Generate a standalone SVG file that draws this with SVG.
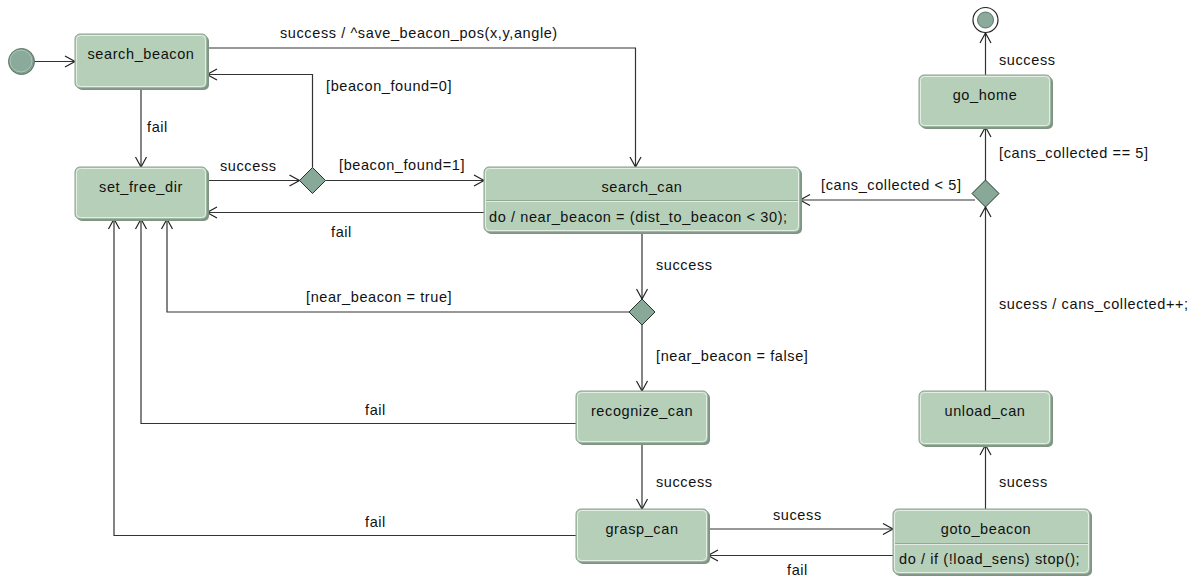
<svg xmlns="http://www.w3.org/2000/svg" width="1192" height="576" viewBox="0 0 1192 576">
<style>
text{font-family:"Liberation Sans",Arial,sans-serif;font-size:14.5px;fill:#111;letter-spacing:0.6px}
.t{text-anchor:middle}
.sh{fill:#7f9483}
.bx{fill:#b6cfb8;stroke:#8aa08e;stroke-width:1}
.hl{fill:none;stroke:#e4eee5;stroke-width:1}
.c{fill:none;stroke:#333;stroke-width:1.2}
.dm{fill:#88a898;stroke:#26332b;stroke-width:1}
.dv1{stroke:#93a897;stroke-width:1}
.dv2{stroke:#e2ece3;stroke-width:1}
</style>
<defs>
<marker id="a" markerUnits="userSpaceOnUse" markerWidth="14" markerHeight="14" viewBox="0 0 14 14" refX="11" refY="7" orient="auto">
<path d="M1,1.5 L11,7 L1,12.5" fill="none" stroke="#222" stroke-width="1.2"/>
</marker>
</defs>

<g id="connectors">
<path class="c" d="M34,61.5 H75" marker-end="url(#a)"/>
<path class="c" d="M207,48 H635.5 V167" marker-end="url(#a)"/>
<path class="c" d="M141,88 V167" marker-end="url(#a)"/>
<path class="c" d="M207,180.5 H299.5" marker-end="url(#a)"/>
<path class="c" d="M312.5,167.5 V74.5 H207" marker-end="url(#a)"/>
<path class="c" d="M325.5,180.5 H484" marker-end="url(#a)"/>
<path class="c" d="M484,212.5 H207" marker-end="url(#a)"/>
<path class="c" d="M642,232 V299" marker-end="url(#a)"/>
<path class="c" d="M629,312 H167 V219" marker-end="url(#a)"/>
<path class="c" d="M642,325 V391" marker-end="url(#a)"/>
<path class="c" d="M576,423.5 H141 V219" marker-end="url(#a)"/>
<path class="c" d="M642,443 V509" marker-end="url(#a)"/>
<path class="c" d="M576,535.5 H114 V219" marker-end="url(#a)"/>
<path class="c" d="M708,529 H893" marker-end="url(#a)"/>
<path class="c" d="M893,555.5 H708" marker-end="url(#a)"/>
<path class="c" d="M985.5,509 V445" marker-end="url(#a)"/>
<path class="c" d="M985.5,391 V207" marker-end="url(#a)"/>
<path class="c" d="M975,200 H800" marker-end="url(#a)"/>
<path class="c" d="M985.5,180 V127" marker-end="url(#a)"/>
<path class="c" d="M985.5,75 V33" marker-end="url(#a)"/>
<text x="280" y="38">success / ^save_beacon_pos(x,y,angle)</text>
<text x="326" y="91">[beacon_found=0]</text>
<text x="147" y="132">fail</text>
<text x="220" y="171">success</text>
<text x="339" y="170">[beacon_found=1]</text>
<text x="331" y="237">fail</text>
<text x="656" y="270">success</text>
<text x="306" y="302">[near_beacon = true]</text>
<text x="656" y="361">[near_beacon = false]</text>
<text x="365" y="415">fail</text>
<text x="365" y="527">fail</text>
<text x="656" y="487">success</text>
<text x="773" y="520">sucess</text>
<text x="787" y="575">fail</text>
<text x="999" y="487">sucess</text>
<text x="999" y="309">sucess / cans_collected++;</text>
<text x="821" y="190">[cans_collected &lt; 5]</text>
<text x="999" y="158">[cans_collected == 5]</text>
<text x="999" y="65">success</text>
</g>

<g id="initial">
<circle cx="21.5" cy="61.5" r="13" fill="#7f9a8b" stroke="#5b7768" stroke-width="1"/>
<circle cx="21" cy="61" r="11" fill="#8aab9b" stroke="#a9c7b8" stroke-width="1"/>
</g>

<g id="final">
<circle cx="985.5" cy="20" r="12.5" fill="#fff" stroke="#222" stroke-width="1.2"/>
<circle cx="985.5" cy="20" r="8" fill="#8aab9b" stroke="#5b7768" stroke-width="1"/>
</g>

<g id="search_beacon">
<rect class="sh" x="77" y="36" width="132" height="54" rx="5"/>
<rect class="bx" x="75" y="34" width="132" height="54" rx="5"/>
<rect class="hl" x="76.5" y="35.5" width="129" height="51" rx="4"/>
<text class="t" x="141" y="59">search_beacon</text>
</g>

<g id="set_free_dir">
<rect class="sh" x="77" y="169" width="132" height="52" rx="5"/>
<rect class="bx" x="75" y="167" width="132" height="52" rx="5"/>
<rect class="hl" x="76.5" y="168.5" width="129" height="49" rx="4"/>
<text class="t" x="141" y="192">set_free_dir</text>
</g>

<g id="d1">
<path class="dm" d="M312.5,167.5 L325.5,180.5 L312.5,193.5 L299.5,180.5 Z"/>
</g>

<g id="search_can">
<rect class="sh" x="486" y="169" width="316" height="65" rx="5"/>
<rect class="bx" x="484" y="167" width="316" height="65" rx="5"/>
<rect class="hl" x="485.5" y="168.5" width="313" height="62" rx="4"/>
<line class="dv1" x1="486" y1="200.5" x2="798" y2="200.5"/>
<line class="dv2" x1="486" y1="201.5" x2="798" y2="201.5"/>
<text class="t" x="642" y="192">search_can</text>
<text x="489" y="222">do / near_beacon = (dist_to_beacon &lt; 30);</text>
</g>

<g id="d2">
<path class="dm" d="M642,299 L655,312 L642,325 L629,312 Z"/>
</g>

<g id="recognize_can">
<rect class="sh" x="578" y="393" width="132" height="52" rx="5"/>
<rect class="bx" x="576" y="391" width="132" height="52" rx="5"/>
<rect class="hl" x="577.5" y="392.5" width="129" height="49" rx="4"/>
<text class="t" x="642" y="416">recognize_can</text>
</g>

<g id="grasp_can">
<rect class="sh" x="578" y="511" width="132" height="53" rx="5"/>
<rect class="bx" x="576" y="509" width="132" height="53" rx="5"/>
<rect class="hl" x="577.5" y="510.5" width="129" height="50" rx="4"/>
<text class="t" x="642" y="534">grasp_can</text>
</g>

<g id="goto_beacon">
<rect class="sh" x="895" y="511" width="197" height="65" rx="5"/>
<rect class="bx" x="893" y="509" width="197" height="65" rx="5"/>
<rect class="hl" x="894.5" y="510.5" width="194" height="62" rx="4"/>
<line class="dv1" x1="895" y1="543.5" x2="1088" y2="543.5"/>
<line class="dv2" x1="895" y1="544.5" x2="1088" y2="544.5"/>
<text class="t" x="986" y="534">goto_beacon</text>
<text x="899" y="564">do / if (!load_sens) stop();</text>
</g>

<g id="unload_can">
<rect class="sh" x="921" y="393" width="132" height="54" rx="5"/>
<rect class="bx" x="919" y="391" width="132" height="54" rx="5"/>
<rect class="hl" x="920.5" y="392.5" width="129" height="51" rx="4"/>
<text class="t" x="985" y="416">unload_can</text>
</g>

<g id="d3">
<path class="dm" d="M985.5,180 L999,193.5 L985.5,207 L972,193.5 Z"/>
</g>

<g id="go_home">
<rect class="sh" x="921" y="77" width="132" height="52" rx="5"/>
<rect class="bx" x="919" y="75" width="132" height="52" rx="5"/>
<rect class="hl" x="920.5" y="76.5" width="129" height="49" rx="4"/>
<text class="t" x="985" y="100">go_home</text>
</g>
</svg>
